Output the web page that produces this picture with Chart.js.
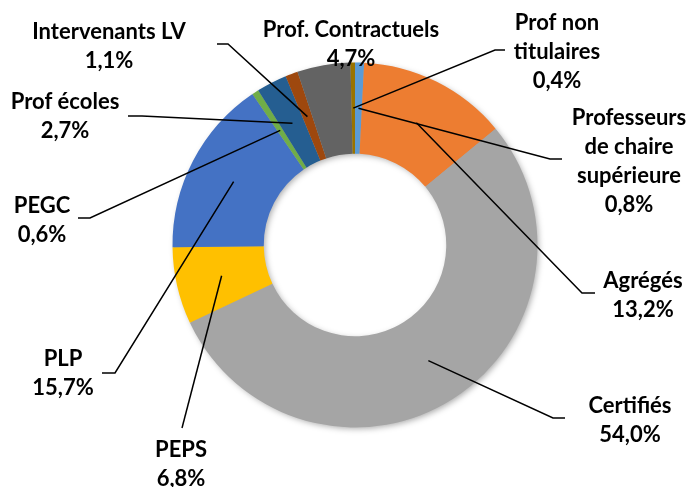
<!DOCTYPE html>
<html>
<head>
<meta charset="utf-8">
<script src="https://cdn.jsdelivr.net/npm/chart.js@4/dist/chart.umd.min.js"></script>
<style>
  body { margin: 0; background: #fff; }
  canvas { display: block; }
</style>
</head>
<body>
<canvas id="corps" width="688" height="487"></canvas>
<script>
// categories, in the order of the ring (clockwise from 12 o'clock)
const categories = ['Professeurs de chaire supérieure', 'Agrégés', 'Certifiés', 'PEPS', 'PLP',
  'PEGC', 'Prof écoles', 'Intervenants LV', 'Prof. Contractuels', 'Prof non titulaires']
const valeurs = [0.8, 13.2, 54.0, 6.8, 15.7, 0.6, 2.7, 1.1, 4.7, 0.4]
const couleurs = ['#5B9BD5', '#ED7D31', '#A5A5A5', '#FFC000', '#4472C4',
  '#70AD47', '#255E91', '#9E480E', '#636363', '#997300']

// how each label is broken into lines
const lignesEtiquettes = [
  ['Professeurs', 'de chaire', 'supérieure'],
  ['Agrégés'], ['Certifiés'], ['PEPS'], ['PLP'], ['PEGC'],
  ['Prof écoles'], ['Intervenants LV'], ['Prof. Contractuels'],
  ['Prof non', 'titulaires']
]

// label placement (text centre of first line) and leader line bends
const placement = [
  { x: 629, y: 118, trait: [[550, 159], [562, 159]] },
  { x: 643, y: 281, trait: [[582, 293], [595, 293]] },
  { x: 630, y: 406, trait: [[553, 418], [565, 418]] },
  { x: 181, y: 450, trait: [[182, 428]] },
  { x: 63, y: 359, trait: [[115, 373], [102, 373]] },
  { x: 42, y: 206, trait: [[90, 218], [78, 218]] },
  { x: 65, y: 102, trait: [[142, 116], [128, 116]] },
  { x: 109, y: 32, trait: [[228, 44], [217, 44]] },
  { x: 351, y: 30, trait: null },
  { x: 557, y: 23, trait: [[495, 50], [505, 50]] }
]

function formatPct(v) {
  return v.toFixed(1).replace('.', ',') + '%'
}

// soft shadow under the ring, like the office chart
const ombre = {
  id: 'ombre',
  beforeDatasetsDraw(chart) {
    const arc = chart.getDatasetMeta(0).data[0]
    if (!arc) return
    const ctx = chart.ctx
    ctx.save()
    ctx.shadowColor = 'rgba(0,0,0,0.35)'
    ctx.shadowBlur = 6
    ctx.shadowOffsetX = 2
    ctx.shadowOffsetY = 2
    ctx.fillStyle = '#A5A5A5'
    ctx.beginPath()
    ctx.arc(arc.x, arc.y, arc.outerRadius - 1, 0, Math.PI * 2)
    ctx.arc(arc.x, arc.y, arc.innerRadius + 1, Math.PI * 2, 0, true)
    ctx.fill()
    ctx.restore()
  }
}

const etiquettes = {
  id: 'etiquettes',
  afterDatasetsDraw(chart) {
    const ctx = chart.ctx
    const arcs = chart.getDatasetMeta(0).data
    ctx.save()
    ctx.strokeStyle = '#000'
    ctx.lineWidth = 1.5
    arcs.forEach((arc, i) => {
      const lay = placement[i]
      if (lay.trait) {
        const p = arc.tooltipPosition()
        ctx.beginPath()
        ctx.moveTo(p.x, p.y)
        lay.trait.forEach(pt => ctx.lineTo(pt[0], pt[1]))
        ctx.stroke()
      }
    })
    ctx.font = 'bold 22px Lato'
    ctx.fillStyle = '#000'
    ctx.textAlign = 'center'
    ctx.textBaseline = 'middle'
    arcs.forEach((arc, i) => {
      const lay = placement[i]
      const lignes = lignesEtiquettes[i].concat(formatPct(valeurs[i]))
      lignes.forEach((t, k) => ctx.fillText(t, lay.x, lay.y + k * 29))
    })
    ctx.restore()
  }
}

new Chart(document.getElementById('corps').getContext('2d'), {
  type: 'doughnut',
  data: {
    labels: categories,
    datasets: [{
      data: valeurs,
      backgroundColor: couleurs,
      borderWidth: 0
    }]
  },
  options: {
    responsive: false,
    animation: false,
    cutout: '50%',
    layout: { padding: { left: 172.5, right: 150.5, top: 62.5, bottom: 59.5 } },
    plugins: {
      legend: { display: false },
      tooltip: { enabled: false }
    }
  },
  plugins: [ombre, etiquettes]
})
</script>
</body>
</html>
